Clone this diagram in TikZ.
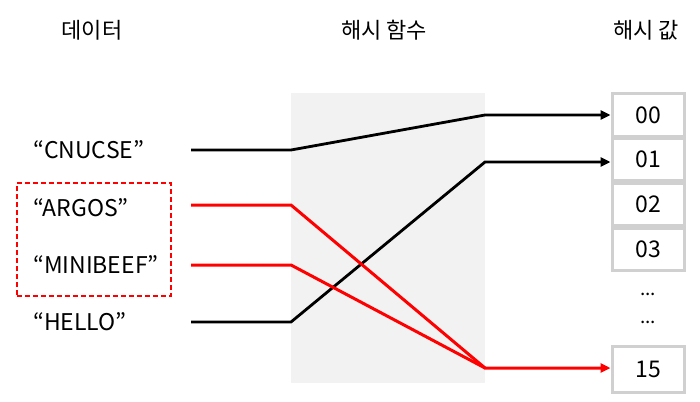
\documentclass[tikz,border=0pt]{standalone}
\usepackage{fontspec}
\setmainfont{Noto Sans CJK KR}
\usetikzlibrary{arrows.meta}
\definecolor{fgray}{HTML}{F2F2F2}
\definecolor{bgray}{HTML}{D0D0D0}
\tikzset{
  title/.style={font=\fontsize{22}{25}\selectfont, anchor=center},
  data/.style={font=\fontsize{23}{26}\selectfont, anchor=west, inner sep=0pt},
  slot/.style={draw=bgray, line width=3pt, minimum width=72pt, minimum height=42pt, inner sep=0pt, font=\fontsize{23}{26}\selectfont, fill=white},
  blk/.style={line width=2.8pt, black},
  rd/.style={line width=3pt, red},
  arr/.style={-{Triangle[length=10pt,width=9pt]}},
  dots/.style={font=\fontsize{19}{22}\selectfont},
}
\begin{document}
\begin{tikzpicture}[x=1pt,y=-1pt]
\useasboundingbox (0,0) rectangle (700,401);
\fill[fgray] (291,93) rectangle (485,383);
\node[title] (t1) at (92,30) {데이터};
\node[title] (t2) at (384,30) {해시 함수};
\node[title] (t3) at (646,30) {해시 값};
\node[data] (d1) at (33,150) {“CNUCSE”};
\node[data] (d2) at (33,208) {“ARGOS”};
\node[data] (d3) at (33,265) {“MINIBEEF”};
\node[data] (d4) at (33,322) {“HELLO”};
\node[draw=red, dash pattern=on 5pt off 3pt, line width=1.4pt, minimum width=154pt, minimum height=113pt, inner sep=0pt] (grp) at (94,239.5) {};
\node[slot] (s0) at (648,115) {00};
\node[slot] (s1) at (648,159.5) {01};
\node[slot] (s2) at (648,204) {02};
\node[slot] (s3) at (648,249) {03};
\node[dots] (dt1) at (648,294) {...};
\node[dots] (dt2) at (648,322) {...};
\node[slot, minimum height=46pt] (s15) at (648,369) {15};
\coordinate (a1) at (191,150); \coordinate (b1) at (291,150); \coordinate (c1) at (485,115);
\coordinate (a2) at (191,205); \coordinate (b2) at (291,205);
\coordinate (a3) at (191,265); \coordinate (b3) at (291,265); \coordinate (c3) at (485,368);
\coordinate (a4) at (191,322); \coordinate (b4) at (291,322); \coordinate (c4) at (485,162);
\draw[blk, arr] (a1) -- (b1) -- (c1) -- (s0.west |- c1);
\draw[blk, arr] (a4) -- (b4) -- (c4) -- (s1.west |- c4);
\draw[rd] (a3) -- (b3) -- (c3);
\draw[rd, arr] (a2) -- (b2) -- (c3) -- (s15.west |- c3);
\end{tikzpicture}
\end{document}
